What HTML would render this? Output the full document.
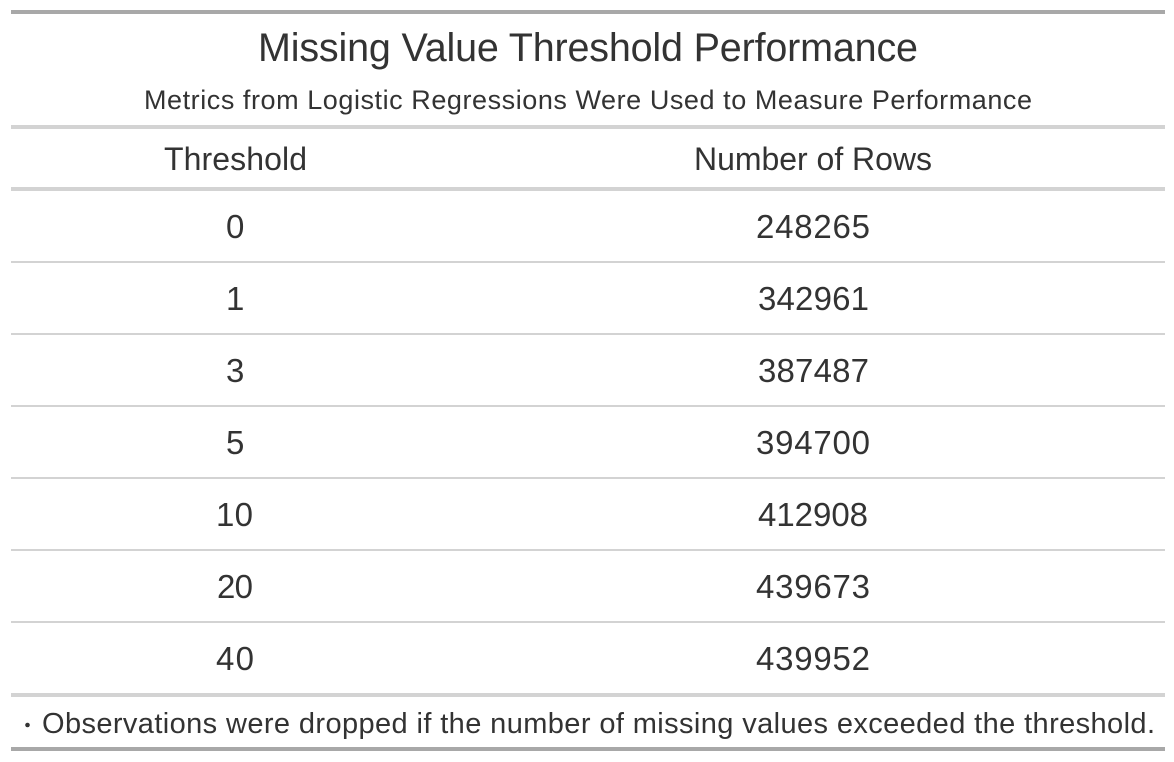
<!DOCTYPE html>
<html>
<head>
<meta charset="utf-8">
<title>Missing Value Threshold Performance</title>
<style>
html,body{margin:0;padding:0;background:#fff;width:1174px;height:762px;overflow:hidden}
svg{display:block}
text{font-family:"Liberation Sans",sans-serif;fill:#333;text-anchor:start}
.h{font-size:32px}
.c{font-size:33px}
</style>
</head>
<body>
<svg width="1174" height="762" viewBox="0 0 1174 762">
  <rect x="0" y="0" width="1174" height="762" fill="#fff"/>
  <rect x="11" y="10" width="1154" height="4" fill="#a8a8a8"/>
  <text x="258" y="61" font-size="39.5" textLength="660">Missing Value Threshold Performance</text>
  <text x="144" y="109" font-size="27" textLength="888">Metrics from Logistic Regressions Were Used to Measure Performance</text>
  <rect x="11" y="125" width="1154" height="4" fill="#d3d3d3"/>
  <text class="h" x="164" y="170" textLength="143">Threshold</text>
  <text class="h" x="694" y="170" textLength="238">Number of Rows</text>
  <rect x="11" y="187" width="1154" height="4" fill="#d3d3d3"/>

  <text class="c" x="226" y="238">0</text>
  <text class="c" x="756" y="238" textLength="114">248265</text>
  <rect x="11" y="261" width="1154" height="2" fill="#d3d3d3"/>

  <text class="c" x="226" y="310">1</text>
  <text class="c" x="758" y="310" textLength="111">342961</text>
  <rect x="11" y="333" width="1154" height="2" fill="#d3d3d3"/>

  <text class="c" x="226" y="382">3</text>
  <text class="c" x="758" y="382" textLength="111">387487</text>
  <rect x="11" y="405" width="1154" height="2" fill="#d3d3d3"/>

  <text class="c" x="226" y="454">5</text>
  <text class="c" x="756" y="454" textLength="114">394700</text>
  <rect x="11" y="477" width="1154" height="2" fill="#d3d3d3"/>

  <text class="c" x="216" y="526" textLength="37">10</text>
  <text class="c" x="758" y="526" textLength="110">412908</text>
  <rect x="11" y="549" width="1154" height="2" fill="#d3d3d3"/>

  <text class="c" x="217" y="598" textLength="36">20</text>
  <text class="c" x="216" y="670" textLength="38">40</text>
  <text class="c" x="756" y="598" textLength="114">439673</text>
  <rect x="11" y="621" width="1154" height="2" fill="#d3d3d3"/>

  <text class="c" x="756" y="670" textLength="114">439952</text>
  <rect x="11" y="693" width="1154" height="4" fill="#d3d3d3"/>

  <circle cx="27.5" cy="725" r="2.3" fill="#333"/>
  <text x="42" y="733" font-size="29" textLength="1113">Observations were dropped if the number of missing values exceeded the threshold.</text>
  <rect x="11" y="747" width="1154" height="4" fill="#a8a8a8"/>
</svg>
</body>
</html>
